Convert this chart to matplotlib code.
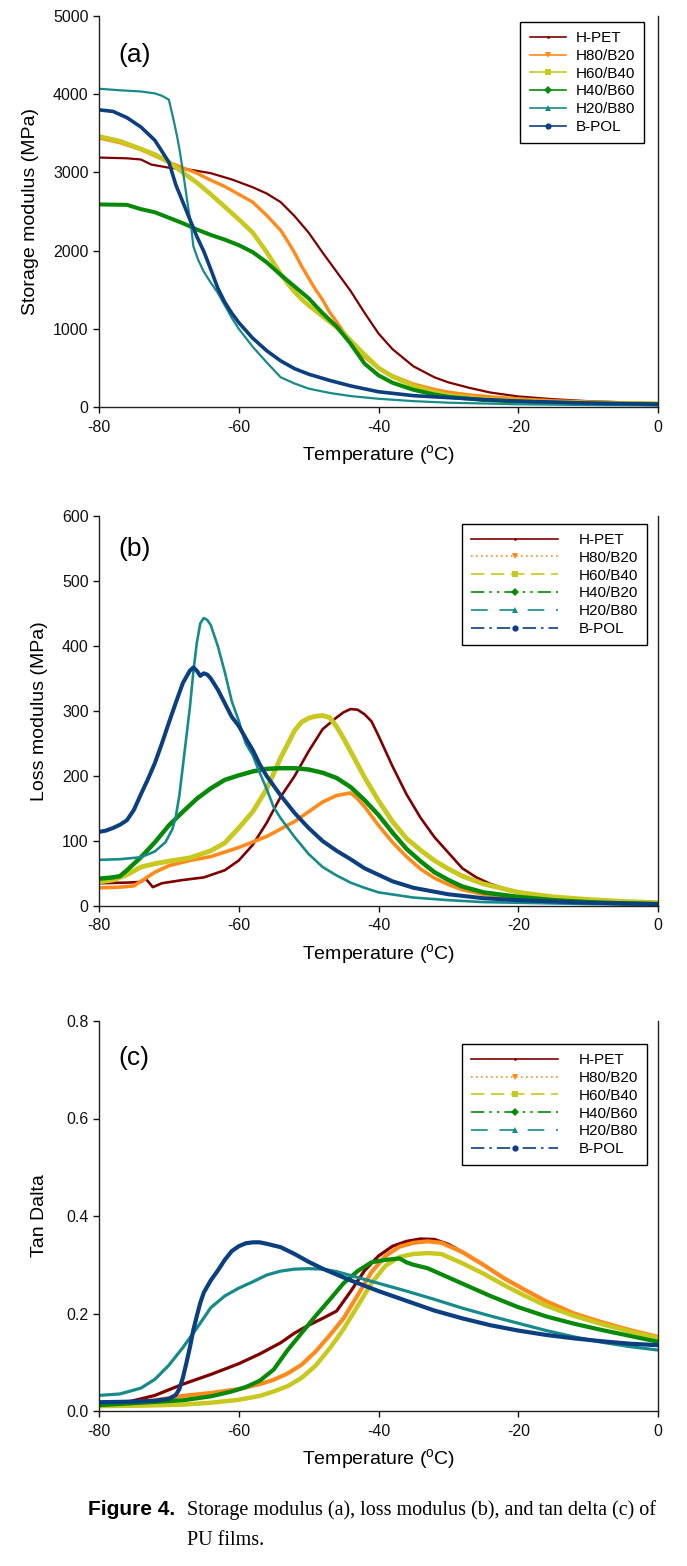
import matplotlib
matplotlib.use("Agg")
import matplotlib.pyplot as plt
from matplotlib.lines import Line2D

plt.rcParams['font.family'] = ['Liberation Sans', 'DejaVu Sans']
plt.rcParams['axes.unicode_minus'] = False
plt.rcParams['mathtext.default'] = 'regular'

# ---------------- data ----------------
labels_a = ["H-PET", "H80/B20", "H60/B40", "H40/B60", "H20/B80", "B-POL"]
labels_b = ["H-PET", "H80/B20", "H60/B40", "H40/B20", "H20/B80", "B-POL"]
labels_c = ["H-PET", "H80/B20", "H60/B40", "H40/B60", "H20/B80", "B-POL"]

# (a) storage modulus, MPa
a_hpet_t = [-80, -76, -74, -72.5, -70, -67, -64, -61, -58, -56, -54, -52, -50, -48, -46, -44, -42, -40, -38, -35, -32, -30, -27, -24, -20, -15, -10, -5, 0]
a_hpet_y = [3190, 3180, 3165, 3100, 3060, 3035, 2990, 2910, 2810, 2730, 2620, 2440, 2230, 1975, 1730, 1485, 1205, 940, 740, 520, 380, 315, 245, 185, 135, 100, 75, 60, 50]
a_h80_t = [-80, -77, -74, -72, -70, -68, -66, -64, -62, -60, -58, -56, -54, -53, -52, -51, -50, -49, -48, -47, -46, -45, -44, -42, -40, -38, -35, -32, -30, -27, -24, -20, -15, -10, -5, 0]
a_h80_y = [3440, 3380, 3290, 3210, 3130, 3060, 2990, 2900, 2820, 2720, 2620, 2450, 2260, 2120, 1970, 1800, 1650, 1500, 1370, 1213, 1090, 960, 850, 640, 495, 400, 294, 225, 190, 155, 130, 105, 80, 65, 55, 45]
a_h60_t = [-80, -77, -74, -72, -70, -68, -66, -64, -62, -60, -58, -56, -55, -54, -53, -52, -51, -50, -49, -48, -47, -46, -45, -44, -42, -40, -38, -35, -32, -30, -25, -20, -15, -10, -5, 0]
a_h60_y = [3460, 3400, 3300, 3230, 3130, 3000, 2870, 2720, 2560, 2400, 2230, 1980, 1840, 1700, 1580, 1470, 1380, 1300, 1230, 1160, 1090, 1020, 940, 850, 670, 500, 390, 270, 190, 150, 100, 75, 60, 50, 45, 40]
a_h40_t = [-80, -76, -74, -72, -70, -68, -66, -64, -62, -60, -58, -56, -54, -52, -50, -48, -46, -44, -42, -40, -38, -35, -32, -30, -25, -20, -15, -10, -5, 0]
a_h40_y = [2590, 2585, 2530, 2490, 2420, 2350, 2270, 2200, 2140, 2070, 1980, 1850, 1690, 1540, 1390, 1200, 1030, 810, 555, 405, 310, 220, 160, 130, 90, 70, 55, 45, 40, 35]
a_h20_t = [-80, -77, -74, -72, -71, -70, -69.4, -68.8, -68.4, -67.8, -67.4, -66.8, -66.5, -65.8, -65, -64, -63, -62, -61, -60, -58, -56, -54, -52, -50, -47, -44, -40, -35, -30, -25, -20, -10, 0]
a_h20_y = [4070, 4050, 4035, 4010, 3980, 3930, 3700, 3450, 3250, 2900, 2650, 2300, 2056, 1880, 1730, 1590, 1460, 1300, 1140, 1000, 770, 570, 380, 300, 235, 180, 140, 105, 75, 55, 45, 35, 25, 20]
a_bpol_t = [-80, -78, -76, -74, -72, -70, -69, -68, -67, -66, -65, -64, -63, -62, -61, -60, -58, -56, -54, -52, -50, -47, -44, -40, -35, -30, -25, -20, -10, 0]
a_bpol_y = [3800, 3780, 3700, 3580, 3410, 3130, 2840, 2620, 2400, 2180, 1990, 1760, 1520, 1340, 1200, 1080, 880, 720, 590, 490, 420, 340, 270, 195, 145, 120, 95, 75, 50, 35]

# (b) loss modulus, MPa
b_hpet_t = [-80, -76, -74, -73.3, -72.3, -71, -68, -65, -62, -60, -58, -56, -54, -52, -50, -48, -46, -45, -44, -43, -42, -41, -40, -38, -36, -34, -32, -30, -28, -26, -24, -22, -20, -15, -10, -5, 0]
b_hpet_y = [35, 36, 37, 42, 29, 35, 40, 44, 55, 70, 94, 128, 168, 200, 238, 272, 290, 298, 303, 302, 295, 284, 262, 215, 172, 136, 106, 82, 58, 44, 34, 27, 22, 14, 9, 6, 4]
b_h80_t = [-80, -77, -75, -74, -73, -72, -70, -67, -64, -60, -56, -52, -50, -48, -46, -45, -44, -43, -42, -40, -38, -36, -34, -32, -30, -28, -25, -20, -15, -10, -5, 0]
b_h80_y = [28, 29, 31, 38, 45, 52, 62, 70, 76, 90, 107, 130, 145, 160, 170, 172, 174, 165, 153, 124, 98, 76, 57, 43, 33, 25, 18, 11, 7, 5, 4, 3]
b_h60_t = [-80, -78, -76, -74, -72, -70, -67, -64, -62, -60, -58, -56, -54, -52, -51, -50, -49, -48, -47, -46, -45, -44, -42, -40, -38, -36, -34, -32, -30, -28, -25, -20, -15, -10, -5, 0]
b_h60_y = [37, 40, 48, 60, 65, 69, 74, 85, 97, 120, 145, 180, 228, 270, 283, 289, 292, 293, 290, 276, 258, 238, 198, 162, 130, 104, 86, 70, 57, 46, 34, 21, 14, 10, 7, 5]
b_h40_t = [-80, -78, -77, -76, -74, -72, -70, -68, -66, -64, -62, -60, -58, -56, -54, -52, -50, -48, -46, -44, -42, -40, -38, -36, -34, -32, -30, -28, -25, -20, -15, -10, -5, 0]
b_h40_y = [42, 44, 46, 55, 75, 98, 124, 145, 165, 181, 194, 201, 207, 211, 212, 212, 210, 205, 197, 183, 163, 140, 113, 88, 69, 52, 40, 30, 21, 14, 9, 6, 4, 3]
b_h20_t = [-80, -77, -74, -72, -70.5, -69.5, -69, -68.5, -68, -67.5, -67, -66.5, -66, -65.5, -65, -64.5, -64, -63, -62, -61, -60, -59, -58, -57, -56, -55, -54, -52, -50, -48, -46, -44, -42, -40, -35, -30, -25, -20, -10, 0]
b_h20_y = [71, 72, 75, 84, 98, 118, 138, 170, 215, 260, 305, 360, 405, 435, 443, 440, 432, 400, 360, 315, 285, 250, 232, 205, 180, 152, 135, 106, 80, 60, 47, 36, 28, 21, 13, 9, 6, 5, 3, 2]
b_bpol_t = [-80, -79, -78, -77, -76, -75, -74, -73, -72, -71, -70, -69, -68, -67, -66.5, -66, -65.5, -65, -64.5, -64, -63, -62, -61, -60, -59, -58, -57, -56, -55, -54, -52, -50, -48, -46, -44, -42, -40, -38, -35, -30, -25, -20, -10, 0]
b_bpol_y = [114, 116, 120, 125, 132, 148, 172, 195, 220, 250, 282, 313, 343, 362, 367, 362, 354, 358, 356, 350, 333, 312, 291, 277, 258, 240, 218, 200, 185, 170, 143, 120, 100, 85, 72, 58, 48, 38, 28, 18, 12, 9, 5, 3]

# (c) tan delta
c_hpet_t = [-80, -76, -72, -68, -64, -60, -57, -54, -52, -50, -48, -46, -44, -42, -40, -38, -36, -34, -32, -30, -28, -25, -22, -19, -16, -12, -8, -4, 0]
c_hpet_y = [0.012, 0.018, 0.032, 0.055, 0.075, 0.097, 0.117, 0.140, 0.160, 0.176, 0.190, 0.205, 0.245, 0.288, 0.318, 0.338, 0.348, 0.353, 0.352, 0.342, 0.326, 0.300, 0.272, 0.248, 0.225, 0.200, 0.180, 0.165, 0.152]
c_h80_t = [-80, -76, -72, -68, -64, -60, -57, -55, -53, -51, -49, -47, -45, -43, -41, -39, -37, -35, -33, -31, -28, -25, -22, -19, -16, -12, -8, -4, 0]
c_h80_y = [0.012, 0.016, 0.022, 0.031, 0.037, 0.045, 0.055, 0.064, 0.077, 0.095, 0.122, 0.155, 0.190, 0.237, 0.285, 0.318, 0.337, 0.345, 0.348, 0.345, 0.326, 0.300, 0.272, 0.248, 0.225, 0.200, 0.182, 0.166, 0.152]
c_h60_t = [-80, -74, -68, -64, -60, -57, -55, -53, -51, -49, -47, -45, -43, -41, -39, -37, -35, -33, -31, -28, -25, -22, -19, -16, -12, -8, -4, 0]
c_h60_y = [0.010, 0.011, 0.013, 0.017, 0.023, 0.031, 0.040, 0.051, 0.068, 0.093, 0.128, 0.168, 0.215, 0.262, 0.298, 0.316, 0.322, 0.324, 0.322, 0.303, 0.282, 0.258, 0.236, 0.216, 0.195, 0.178, 0.163, 0.150]
c_h40_t = [-80, -74, -68, -64, -61, -59, -57, -55, -53, -51, -49, -47, -45, -43, -41, -39, -37, -36, -35, -33, -30, -27, -24, -20, -16, -12, -8, -4, 0]
c_h40_y = [0.012, 0.017, 0.022, 0.030, 0.040, 0.049, 0.062, 0.085, 0.125, 0.160, 0.195, 0.228, 0.262, 0.287, 0.305, 0.310, 0.313, 0.305, 0.300, 0.293, 0.274, 0.255, 0.236, 0.213, 0.194, 0.179, 0.166, 0.154, 0.142]
c_h20_t = [-80, -77, -74, -72, -70, -68, -66, -64, -62, -60, -58, -56, -54, -52, -50, -48, -46, -44, -42, -40, -36, -32, -28, -24, -20, -16, -12, -8, -4, 0]
c_h20_y = [0.032, 0.035, 0.047, 0.065, 0.094, 0.130, 0.170, 0.212, 0.236, 0.252, 0.265, 0.279, 0.287, 0.291, 0.292, 0.291, 0.286, 0.278, 0.270, 0.262, 0.246, 0.229, 0.211, 0.195, 0.180, 0.165, 0.152, 0.141, 0.132, 0.125]
c_bpol_t = [-80, -76, -72, -70, -69, -68.5, -68, -67.5, -67, -66.5, -66, -65.5, -65, -64, -63, -62, -61, -60, -59, -58, -57, -56, -54, -52, -50, -48, -46, -44, -42, -40, -36, -32, -28, -24, -20, -16, -12, -8, -4, 0]
c_bpol_y = [0.018, 0.019, 0.021, 0.025, 0.033, 0.045, 0.068, 0.098, 0.130, 0.166, 0.195, 0.222, 0.243, 0.268, 0.288, 0.310, 0.328, 0.338, 0.344, 0.346, 0.346, 0.343, 0.336, 0.322, 0.306, 0.292, 0.280, 0.268, 0.257, 0.246, 0.226, 0.206, 0.190, 0.176, 0.165, 0.156, 0.149, 0.143, 0.138, 0.135]

# ---------------- style ----------------
colors = ['#800000', '#ff8a1c', '#c8c81e', '#078a07', '#178a8a', '#0b3f80']
markers = ['.', 'v', 's', 'D', '^', 'o']
msizes = [3, 4, 3.5, 3.5, 3.5, 3.5]
lw_a = [1.6, 2.4, 3.3, 2.9, 1.6, 2.6]
lw_b = [1.9, 2.6, 3.5, 3.2, 1.9, 2.9]
lw_c = [2.3, 3.0, 3.2, 3.0, 2.3, 3.0]
dashes_bc = [(None, None), (1, 2), (8, 4), (8, 3, 1.5, 3, 1.5, 3), (10, 7), (8, 3, 1.5, 3)]

W, H = 687, 1566
fig = plt.figure(figsize=(W / 100, H / 100), dpi=100)


def rect(top_px, bottom_px):
    return [99 / W, 1 - bottom_px / H, (658 - 99) / W, (bottom_px - top_px) / H]


def style_axes(ax, ylim, yticks, ylabel, tag, tag_y, ylab_x):
    ax.set_xlim(-80, 0)
    ax.set_ylim(*ylim)
    ax.set_xticks([-80, -60, -40, -20, 0])
    ax.set_yticks(yticks)
    ax.spines['top'].set_visible(False)
    for s in ['left', 'bottom', 'right']:
        ax.spines[s].set_linewidth(1.0)
        ax.spines[s].set_color('#222222')
    ax.tick_params(direction='out', length=4, width=1, labelsize=11.5, colors='#111111',
                   right=False, top=False)
    ax.tick_params(axis='x', pad=5)
    ax.set_xlabel('Temperature ($^{o}$C)', fontsize=14, labelpad=6)
    ax.set_ylabel(ylabel, fontsize=14)
    ax.yaxis.set_label_coords(ylab_x, 0.5)
    ax.text(0.034, tag_y, tag, transform=ax.transAxes, fontsize=19, va='center', ha='left')


def proxies(lw, use_dashes):
    hs = []
    for i in range(6):
        h = Line2D([], [], color=colors[i], lw=lw, marker=markers[i], markersize=msizes[i] + 1,
                   markeredgewidth=0)
        if use_dashes and dashes_bc[i][0] is not None:
            h.set_dashes(dashes_bc[i])
        hs.append(h)
    return hs


def add_legend(ax, handles, labels, anchor, hlen, hpad):
    leg = ax.legend(handles, labels, loc='upper right', bbox_to_anchor=anchor,
                    fontsize=11, frameon=True, fancybox=False, edgecolor='black', framealpha=1,
                    handlelength=hlen, handletextpad=hpad, labelspacing=0.25, borderpad=0.6,
                    borderaxespad=0)
    leg.get_frame().set_linewidth(1.0)


# (a)
ax1 = fig.add_axes(rect(16, 407))
series_a = [(a_hpet_t, a_hpet_y), (a_h80_t, a_h80_y), (a_h60_t, a_h60_y),
            (a_h40_t, a_h40_y), (a_h20_t, a_h20_y), (a_bpol_t, a_bpol_y)]
for i, (t, y) in enumerate(series_a):
    ax1.plot(t, y, color=colors[i], lw=lw_a[i], solid_joinstyle='round')
style_axes(ax1, (0, 5000), [0, 1000, 2000, 3000, 4000, 5000], 'Storage modulus (MPa)', '(a)', 0.90, -0.108)
add_legend(ax1, proxies(1.2, False), labels_a, (0.975, 0.985), 2.4, 0.6)

# (b)
ax2 = fig.add_axes(rect(516, 906))
series_b = [(b_hpet_t, b_hpet_y), (b_h80_t, b_h80_y), (b_h60_t, b_h60_y),
            (b_h40_t, b_h40_y), (b_h20_t, b_h20_y), (b_bpol_t, b_bpol_y)]
for i, (t, y) in enumerate(series_b):
    ax2.plot(t, y, color=colors[i], lw=lw_b[i], solid_joinstyle='round')
style_axes(ax2, (0, 600), [0, 100, 200, 300, 400, 500, 600], 'Loss modulus (MPa)', '(b)', 0.916, -0.092)
add_legend(ax2, proxies(1.2, True), labels_b, (0.98, 0.98), 5.7, 1.3)

# (c)
ax3 = fig.add_axes(rect(1021, 1411))
series_c = [(c_hpet_t, c_hpet_y), (c_h80_t, c_h80_y), (c_h60_t, c_h60_y),
            (c_h40_t, c_h40_y), (c_h20_t, c_h20_y), (c_bpol_t, c_bpol_y)]
for i, (t, y) in enumerate(series_c):
    ax3.plot(t, y, color=colors[i], lw=lw_c[i], solid_joinstyle='round')
style_axes(ax3, (0, 0.8), [0.0, 0.2, 0.4, 0.6, 0.8], 'Tan Dalta', '(c)', 0.905, -0.092)
ax3.set_yticklabels(['0.0', '0.2', '0.4', '0.6', '0.8'])
add_legend(ax3, proxies(1.2, True), labels_c, (0.98, 0.941), 5.7, 1.3)

# caption
fig.text(88 / W, 1 - 1515 / H, 'Figure 4.', fontsize=15, fontweight='bold', family='Liberation Sans',
         ha='left', va='baseline')
fig.text(187 / W, 1 - 1515 / H, 'Storage modulus (a), loss modulus (b), and tan delta (c) of',
         fontsize=14.5, family='Liberation Serif', ha='left', va='baseline')
fig.text(187 / W, 1 - 1545 / H, 'PU films.', fontsize=14.5, family='Liberation Serif', ha='left', va='baseline')

fig.savefig('out.png', dpi=100)
